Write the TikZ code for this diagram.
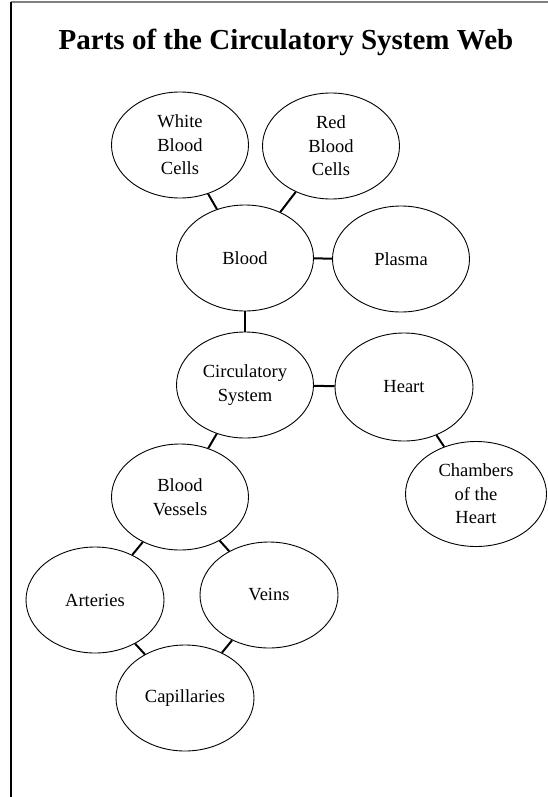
\documentclass[tikz,border=0pt]{standalone}
\usepackage{fontspec}
\setmainfont{Liberation Serif}
\usetikzlibrary{shapes.geometric}
\begin{document}
\begin{tikzpicture}[x=1pt,y=-1pt,
  bub/.style={ellipse,draw,line width=0.9pt,minimum width=137pt,minimum height=106pt,inner sep=0pt,align=center,font=\fontsize{18.5}{23.5}\selectfont},
  link/.style={line width=2pt}]
\useasboundingbox (0,0) rectangle (548,797);
\draw[line width=1.6pt,gray] (11,2) -- (548,2);
\draw[line width=1.6pt] (11,2) -- (11,797);
\node[font=\fontsize{29}{33}\selectfont\bfseries] (title) at (286,42) {Parts of the Circulatory System Web};
\node[bub] (wbc) at (180,145) {White\\Blood\\Cells};
\node[bub] (rbc) at (331,146) {Red\\Blood\\Cells};
\node[bub] (blood) at (245,258) {Blood};
\node[bub] (plasma) at (401,259) {Plasma};
\node[bub] (circ) at (245,385) {Circulatory\\System};
\node[bub,minimum width=138pt,minimum height=108pt] (heart) at (404,387) {Heart};
\node[bub,minimum width=141pt,minimum height=105pt] (chambers) at (476,494) {Chambers\\of the\\Heart};
\node[bub] (bv) at (180,497) {Blood\\Vessels};
\node[bub,minimum width=138pt] (arteries) at (95,600) {Arteries};
\node[bub,minimum width=138pt] (veins) at (269,595) {Veins};
\node[bub,minimum width=138pt] (cap) at (185,698) {Capillaries};
\draw[link] (wbc) -- (blood);
\draw[link] (rbc) -- (blood);
\draw[link] (blood) -- (plasma);
\draw[link] (blood) -- (circ);
\draw[link] (circ) -- (heart);
\draw[link] (circ) -- (bv);
\draw[link] (heart) -- (chambers);
\draw[link] (bv) -- (arteries);
\draw[link] (bv) -- (veins);
\draw[link] (arteries) -- (cap);
\draw[link] (veins) -- (cap);
\end{tikzpicture}
\end{document}
